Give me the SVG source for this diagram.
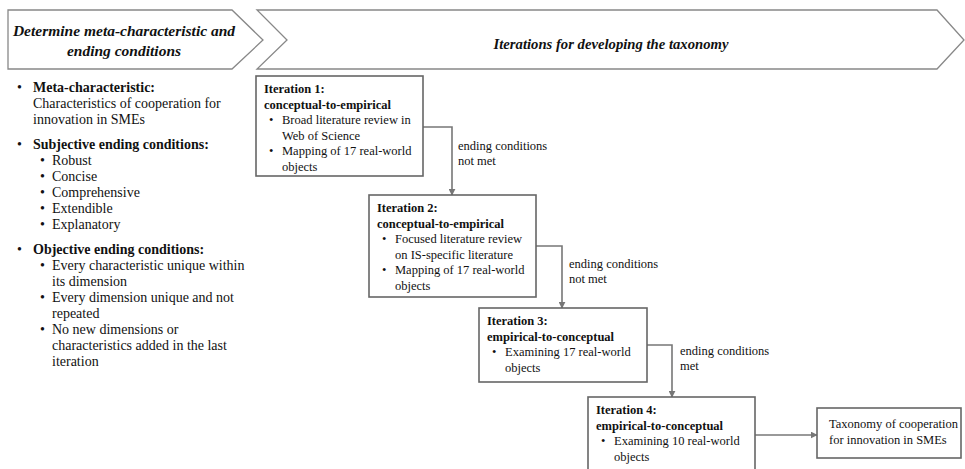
<svg xmlns="http://www.w3.org/2000/svg" width="965" height="469" viewBox="0 0 965 469">
<defs>
<marker id="arr" viewBox="0 0 10 10" refX="9" refY="5" markerWidth="7" markerHeight="7" markerUnits="userSpaceOnUse" orient="auto"><path d="M0,0 L10,5 L0,10 z" fill="#777"/></marker>
<style>
.chev{fill:#fff;stroke:#888;stroke-width:1.3}
.box{fill:#fff;stroke:#666;stroke-width:1.6}
.hd{font-family:"Liberation Serif",serif;font-weight:bold;font-style:italic;fill:#111}
.t{font-family:"Liberation Serif",serif;font-size:14px;fill:#111}
.b{font-family:"Liberation Serif",serif;font-size:12.5px;fill:#111}
.bold{font-weight:bold}
.con{fill:none;stroke:#777;stroke-width:1.6;marker-end:url(#arr)}
</style>
</defs>
<rect width="965" height="469" fill="#fff"/>
<g id="header-left">
<polygon class="chev" points="8,10 232,10 263,40 232,69 8,69"/>
<text class="hd" x="124" y="36" text-anchor="middle" font-size="15.5">Determine meta-characteristic and</text>
<text class="hd" x="124" y="56" text-anchor="middle" font-size="15.5">ending conditions</text>
</g>
<g id="header-right">
<polygon class="chev" points="257,10 937,10 964,40 937,69 257,69 287,40"/>
<text class="hd" x="611" y="49" text-anchor="middle" font-size="14.7">Iterations for developing the taxonomy</text>
</g>
<g id="conditions" class="t">
<text x="17" y="92">•</text><text x="33" y="92" class="bold">Meta-characteristic:</text>
<text x="33" y="108">Characteristics of cooperation for</text>
<text x="33" y="124">innovation in SMEs</text>
<text x="17" y="149">•</text><text x="33" y="149" class="bold">Subjective ending conditions:</text>
<text x="40" y="165">•</text><text x="52" y="165">Robust</text>
<text x="40" y="181">•</text><text x="52" y="181">Concise</text>
<text x="40" y="197">•</text><text x="52" y="197">Comprehensive</text>
<text x="40" y="213">•</text><text x="52" y="213">Extendible</text>
<text x="40" y="229">•</text><text x="52" y="229">Explanatory</text>
<text x="17" y="254">•</text><text x="33" y="254" class="bold">Objective ending conditions:</text>
<text x="40" y="270">•</text><text x="52" y="270">Every characteristic unique within</text>
<text x="52" y="286">its dimension</text>
<text x="40" y="302">•</text><text x="52" y="302">Every dimension unique and not</text>
<text x="52" y="318">repeated</text>
<text x="40" y="334">•</text><text x="52" y="334">No new dimensions or</text>
<text x="52" y="350">characteristics added in the last</text>
<text x="52" y="366">iteration</text>
</g>
<g id="connectors">
<path class="con" d="M423,127 H452 V195"/>
<path class="con" d="M536,246 H562 V308"/>
<path class="con" d="M647,345 H672 V397"/>
<path class="con" d="M755,435 H817"/>
<g class="b">
<text x="458" y="150">ending conditions</text>
<text x="458" y="165">not met</text>
<text x="569" y="268">ending conditions</text>
<text x="569" y="283">not met</text>
<text x="680" y="355">ending conditions</text>
<text x="680" y="370">met</text>
</g>
</g>
<g id="iteration1" class="b">
<rect class="box" x="256" y="76" width="167" height="100"/>
<text x="264" y="93" class="bold">Iteration 1:</text>
<text x="264" y="108.5" class="bold">conceptual-to-empirical</text>
<text x="269" y="124">•</text><text x="282" y="124">Broad literature review in</text>
<text x="282" y="139.5">Web of Science</text>
<text x="269" y="155">•</text><text x="282" y="155">Mapping of 17 real-world</text>
<text x="282" y="170.5">objects</text>
</g>
<g id="iteration2" class="b">
<rect class="box" x="369" y="195" width="167" height="102"/>
<text x="377" y="212" class="bold">Iteration 2:</text>
<text x="377" y="227.5" class="bold">conceptual-to-empirical</text>
<text x="382" y="243">•</text><text x="395" y="243">Focused literature review</text>
<text x="395" y="258.5">on IS-specific literature</text>
<text x="382" y="274">•</text><text x="395" y="274">Mapping of 17 real-world</text>
<text x="395" y="289.5">objects</text>
</g>
<g id="iteration3" class="b">
<rect class="box" x="479" y="308" width="168" height="74"/>
<text x="487" y="325" class="bold">Iteration 3:</text>
<text x="487" y="340.5" class="bold">empirical-to-conceptual</text>
<text x="492" y="356">•</text><text x="505" y="356">Examining 17 real-world</text>
<text x="505" y="371.5">objects</text>
</g>
<g id="iteration4" class="b">
<rect class="box" x="588" y="397" width="167" height="80"/>
<text x="596" y="414" class="bold">Iteration 4:</text>
<text x="596" y="429.5" class="bold">empirical-to-conceptual</text>
<text x="601" y="445">•</text><text x="614" y="445">Examining 10 real-world</text>
<text x="614" y="460.5">objects</text>
</g>
<g id="taxonomy" class="b">
<rect class="box" x="817" y="408" width="144" height="50"/>
<text x="829" y="428">Taxonomy of cooperation</text>
<text x="829" y="444">for innovation in SMEs</text>
</g>
</svg>
